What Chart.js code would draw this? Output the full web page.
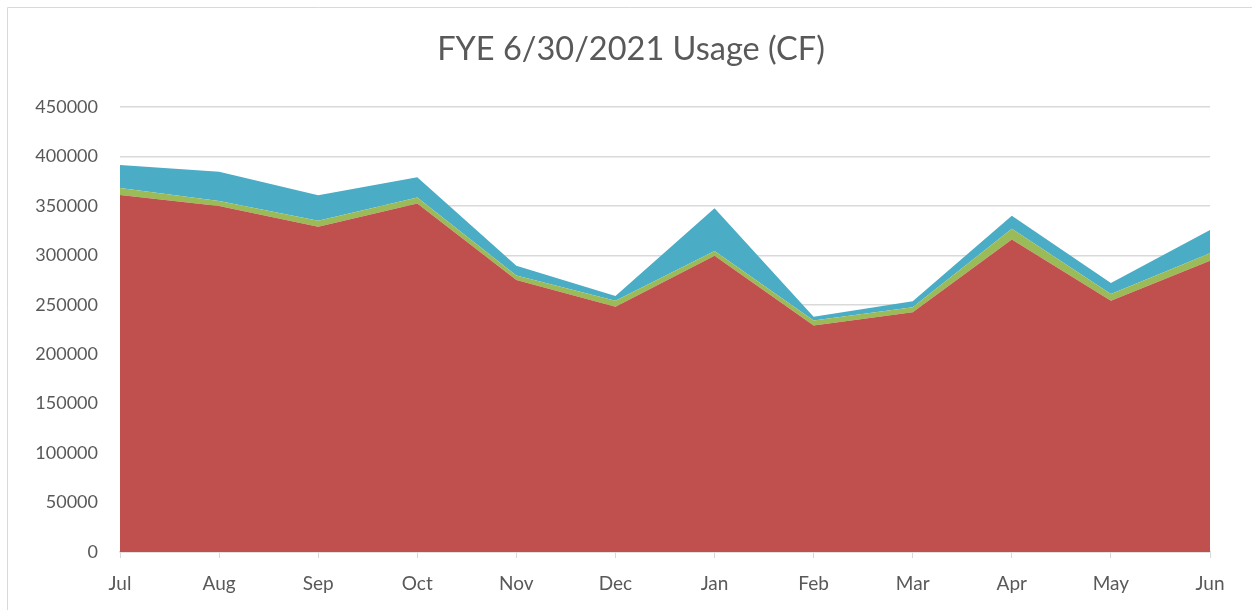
<!DOCTYPE html>
<html>
<head>
<meta charset="utf-8">
<script src="https://cdn.jsdelivr.net/npm/chart.js@4"></script>
<style>
    html, body { margin: 0; padding: 0; background: #ffffff; }
    #wrap { position: relative; width: 1252px; height: 610px; }
</style>
</head>
<body>
<div id="wrap"><canvas id="usage-chart" width="1252" height="610"></canvas></div>
<script>
// Usage data (CF)
const months = ['Jul', 'Aug', 'Sep', 'Oct', 'Nov', 'Dec', 'Jan', 'Feb', 'Mar', 'Apr', 'May', 'Jun'];
const redSeries = [361000, 350000, 329000, 352500, 275000, 248000, 299500, 229000, 242500, 316000, 254000, 294500];
const greenSeries = [7000, 5000, 6000, 6000, 4500, 6000, 5000, 5000, 5000, 11000, 7000, 7500];
const blueSeries = [23300, 29500, 25700, 20500, 10000, 5000, 43000, 4000, 6000, 13000, 11000, 23500];

const textColor = '#595959';
const gridColor = '#d9d9d9';
const fontFamily = 'Lato, "Open Sans", sans-serif';

// light frame round the chart, like the Excel chart border
const framePlugin = {
    id: 'frame',
    beforeDraw(chart) {
        const c = chart.ctx;
        c.save();
        c.strokeStyle = gridColor;
        c.lineWidth = 1;
        c.beginPath();
        c.moveTo(7.5, chart.height);
        c.lineTo(7.5, 7.5);
        c.lineTo(chart.width, 7.5);
        c.stroke();
        c.restore();
    }
};

function areaSet(label, data, color, fill) {
    return {
        label: label,
        data: data,
        backgroundColor: color,
        borderColor: color,
        borderWidth: 0,
        pointRadius: 0,
        pointHoverRadius: 0,
        tension: 0,
        fill: fill
    };
}

new Chart(document.getElementById('usage-chart'), {
    type: 'line',
    data: {
        labels: months,
        datasets: [
            areaSet('Series 1', redSeries, '#c0504d', 'origin'),
            areaSet('Series 2', greenSeries, '#9bbb59', '-1'),
            areaSet('Series 3', blueSeries, '#4bacc6', '-1')
        ]
    },
    options: {
        responsive: false,
        animation: false,
        layout: {
            padding: { left: 10, right: 0, top: 0, bottom: 0 }
        },
        plugins: {
            legend: { display: false },
            tooltip: { enabled: false },
            title: {
                display: true,
                text: 'FYE 6/30/2021 Usage (CF)',
                color: textColor,
                font: { family: fontFamily, size: 32.5, weight: 'normal' },
                padding: { top: 30.5, bottom: 37.5 }
            }
        },
        scales: {
            x: {
                offset: false,
                grid: {
                    drawOnChartArea: false,
                    drawTicks: true,
                    tickLength: 6,
                    color: gridColor
                },
                border: { color: gridColor, width: 1.5 },
                ticks: {
                    color: textColor,
                    font: { family: fontFamily, size: 19 },
                    padding: 14,
                    maxRotation: 0,
                    autoSkip: false
                },
                afterFit: function(scale) {
                    scale.height = 58;
                }
            },
            y: {
                stacked: true,
                min: 0,
                max: 450000,
                grid: {
                    color: gridColor,
                    lineWidth: 1.5,
                    drawTicks: false
                },
                border: { display: false },
                ticks: {
                    stepSize: 50000,
                    color: textColor,
                    font: { family: fontFamily, size: 18 },
                    padding: 22,
                    callback: function(value) {
                        return value;
                    }
                },
                afterFit: function(scale) {
                    scale.width = 110;
                }
            },
            // empty right-hand spacer so the title centres like the original
            spacer: {
                position: 'right',
                grid: { display: false },
                border: { display: false },
                ticks: { display: false },
                afterFit: function(scale) {
                    scale.width = 42;
                }
            }
        }
    },
    plugins: [framePlugin]
});
</script>
</body>
</html>
